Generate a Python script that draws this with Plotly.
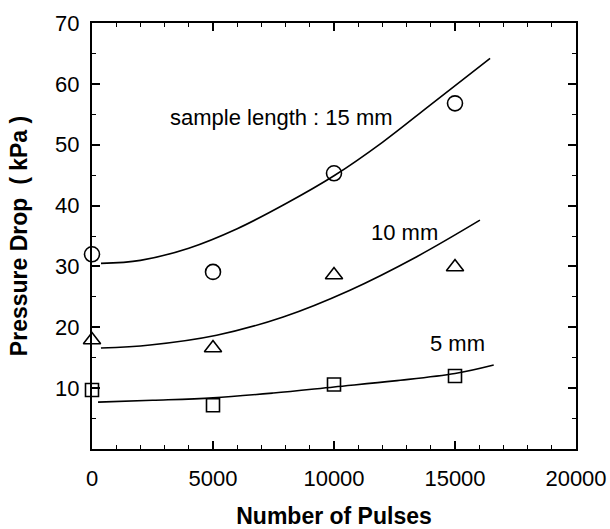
import plotly.graph_objects as go

# ---- measured data points ----
pulses = [0, 5000, 10000, 15000]
p15 = [32.0, 29.1, 45.3, 56.8]   # sample length 15 mm (circles)
p10 = [17.9, 16.6, 28.6, 29.9]   # 10 mm (triangles)
p5 = [9.7, 7.2, 10.6, 12.0]      # 5 mm (squares)

# ---- fitted curves ----
fit15_x = [372, 2000, 4000, 6000, 8000, 10000, 12000, 14000, 16450]
fit15_y = [30.5, 31.0, 33.0, 36.2, 40.3, 44.9, 50.4, 56.6, 64.2]
fit10_x = [370, 2400, 5150, 7900, 10660, 13420, 16030]
fit10_y = [16.6, 17.1, 18.7, 21.7, 26.1, 31.6, 37.6]
fit5_x = [250, 2500, 5000, 7500, 10000, 12500, 15000, 16600]
fit5_y = [7.7, 8.0, 8.4, 9.2, 10.2, 11.2, 12.4, 13.8]

# ---- tick labels ----
x_tickvals = [0, 5000, 10000, 15000, 20000]
x_ticktext = ["0", "5000", "10000", "15000", "20000"]
y_tickvals = [0, 10, 20, 30, 40, 50, 60, 70]
y_ticktext = ["", "10", "20", "30", "40", "50", "60", "70"]

# ---- curve labels ----
label_text = ["sample length : 15 mm", "10 mm", "5 mm"]
label_x = [7840, 12930, 15100]
label_y = [54.5, 35.6, 17.4]

FONT = "Liberation Sans, Arial, Helvetica, sans-serif"
line_style = dict(color="black", width=1.6, shape="spline", smoothing=1.0)

fig = go.Figure()
for fx, fy in [(fit15_x, fit15_y), (fit10_x, fit10_y), (fit5_x, fit5_y)]:
    fig.add_trace(go.Scatter(x=fx, y=fy, mode="lines", line=line_style,
                             showlegend=False, hoverinfo="skip"))

marker_line = dict(color="black", width=1.6)
fig.add_trace(go.Scatter(x=pulses, y=p15, mode="markers", cliponaxis=False,
                         marker=dict(symbol="circle-open", size=15, color="black", line=marker_line),
                         showlegend=False))
fig.add_trace(go.Scatter(x=pulses, y=p10, mode="markers", cliponaxis=False,
                         marker=dict(symbol="triangle-up-open", size=15, color="black", line=marker_line),
                         showlegend=False))
fig.add_trace(go.Scatter(x=pulses, y=p5, mode="markers", cliponaxis=False,
                         marker=dict(symbol="square-open", size=13, color="black", line=marker_line),
                         showlegend=False))

for t, xx, yy in zip(label_text, label_x, label_y):
    fig.add_annotation(x=xx, y=yy, text=t, showarrow=False,
                       font=dict(family=FONT, size=22, color="black"))

axis_common = dict(
    showline=True, linewidth=2, linecolor="black", mirror="allticks",
    ticks="inside", ticklen=8, tickwidth=1.5, tickcolor="black",
    showgrid=False, zeroline=False,
    tickfont=dict(family=FONT, size=22, color="black"),
)

fig.update_xaxes(
    range=[0, 20000], tickmode="array", tickvals=x_tickvals, ticktext=x_ticktext,
    minor=dict(dtick=1000, tick0=0, ticks="inside", ticklen=4, tickwidth=1.3,
               tickcolor="black", showgrid=False),
    ticklabelstandoff=9,
    title=dict(text="<b>Number of Pulses</b>", standoff=17,
               font=dict(family=FONT, size=23, color="black")),
    **axis_common,
)
fig.update_yaxes(
    range=[0, 70], tickmode="array", tickvals=y_tickvals, ticktext=y_ticktext,
    minor=dict(dtick=5, tick0=0, ticks="inside", ticklen=4, tickwidth=1.3,
               tickcolor="black", showgrid=False),
    ticklabelstandoff=6,
    title=dict(text="<b>Pressure Drop  ( kPa )</b>", standoff=21,
               font=dict(family=FONT, size=23, color="black")),
    **axis_common,
)

fig.update_layout(
    width=610, height=529,
    margin=dict(l=92, r=34, t=23, b=80, autoexpand=False),
    plot_bgcolor="white", paper_bgcolor="white",
    font=dict(family=FONT, color="black"),
)

# remove the default page margin so the figure fills the window exactly
fig.write_html(
    "out.html",
    config={"displayModeBar": False},
    post_script="document.body.style.margin='0';document.body.style.overflow='hidden';",
)
